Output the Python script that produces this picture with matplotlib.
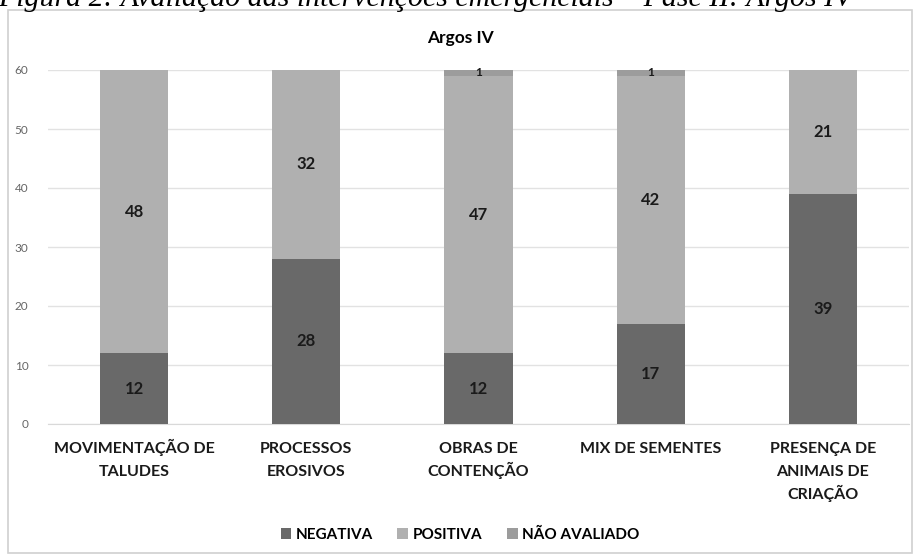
import matplotlib.pyplot as plt
from matplotlib.patches import Rectangle
import numpy as np

categories = ["MOVIMENTAÇÃO DE\nTALUDES", "PROCESSOS\nEROSIVOS", "OBRAS DE\nCONTENÇÃO",
              "MIX DE SEMENTES", "PRESENÇA DE\nANIMAIS DE\nCRIAÇÃO"]
negativa = [12, 28, 12, 17, 39]
positiva = [48, 32, 47, 42, 21]
nao_avaliado = [0, 0, 1, 1, 0]
series_names = ["NEGATIVA", "POSITIVA", "NÃO AVALIADO"]
colors = ["#696969", "#b0b0b0", "#9c9c9c"]

plt.rcParams["font.family"] = ["Lato", "DejaVu Sans"]

fig = plt.figure(figsize=(9.2, 5.56), dpi=100)
ax = fig.add_axes([48 / 920, 1 - 424 / 556, 861 / 920, 354 / 556])

# caption cut off at the top of the page
fig.text(-0.002, 1 - 6 / 556, "Figura 2: Avaliação das intervenções emergenciais – Fase II: Argos IV",
         family="Liberation Serif", style="italic", fontsize=21.5, va="baseline", ha="left")

# chart frame
fig.patches.append(Rectangle((8 / 920, 3 / 556), 904 / 920, 543 / 556, transform=fig.transFigure,
                             fill=False, edgecolor="#d0d0d0", linewidth=1.2))

x = np.arange(len(categories))
w = 0.395
bottom = np.zeros(len(categories))
for vals, name, c in zip([negativa, positiva, nao_avaliado], series_names, colors):
    vals = np.array(vals)
    ax.bar(x, vals, w, bottom=bottom, color=c, label=name, zorder=3)
    for xi, b, v in zip(x, bottom, vals):
        if v > 0:
            ax.text(xi, b + v / 2, str(v), ha="center", va="center",
                    fontsize=8.5 if v < 3 else 12, fontweight="bold", color="#1a1a1a", zorder=4)
    bottom += vals

ax.set_xlim(-0.5, 4.5)
ax.set_ylim(0, 60)
ax.set_yticks(range(0, 61, 10))
ax.yaxis.grid(True, color="#e2e2e2", linewidth=1, zorder=0)
for s in ["top", "right", "left"]:
    ax.spines[s].set_visible(False)
ax.spines["bottom"].set_color("#d9d9d9")
ax.tick_params(axis="y", length=0, labelsize=8.5, labelcolor="#666666", pad=14)
ax.set_xticks(x)
ax.set_xticklabels([])
ax.tick_params(axis="x", length=0)

# category labels, one text per line so accented lines keep an even spacing
line_step = 23 / 354
for xi, label in zip(x, categories):
    for k, line in enumerate(label.split("\n")):
        ax.text(xi, -29 / 354 - k * line_step, line, transform=ax.get_xaxis_transform(),
                ha="center", va="baseline", fontsize=11.5, fontweight="bold", color="#1a1a1a")

fig.text(0.5, 1 - 38 / 556, "Argos IV", ha="center", va="center", fontsize=12.5, fontweight="bold")

fig.legend(loc="center", bbox_to_anchor=(0.5, 1 - 535 / 556), ncol=3, frameon=False,
           prop={"weight": "bold", "size": 11}, handlelength=0.7, handleheight=0.7,
           handletextpad=0.3, columnspacing=1.6)

fig.savefig("out.png", dpi=100)
